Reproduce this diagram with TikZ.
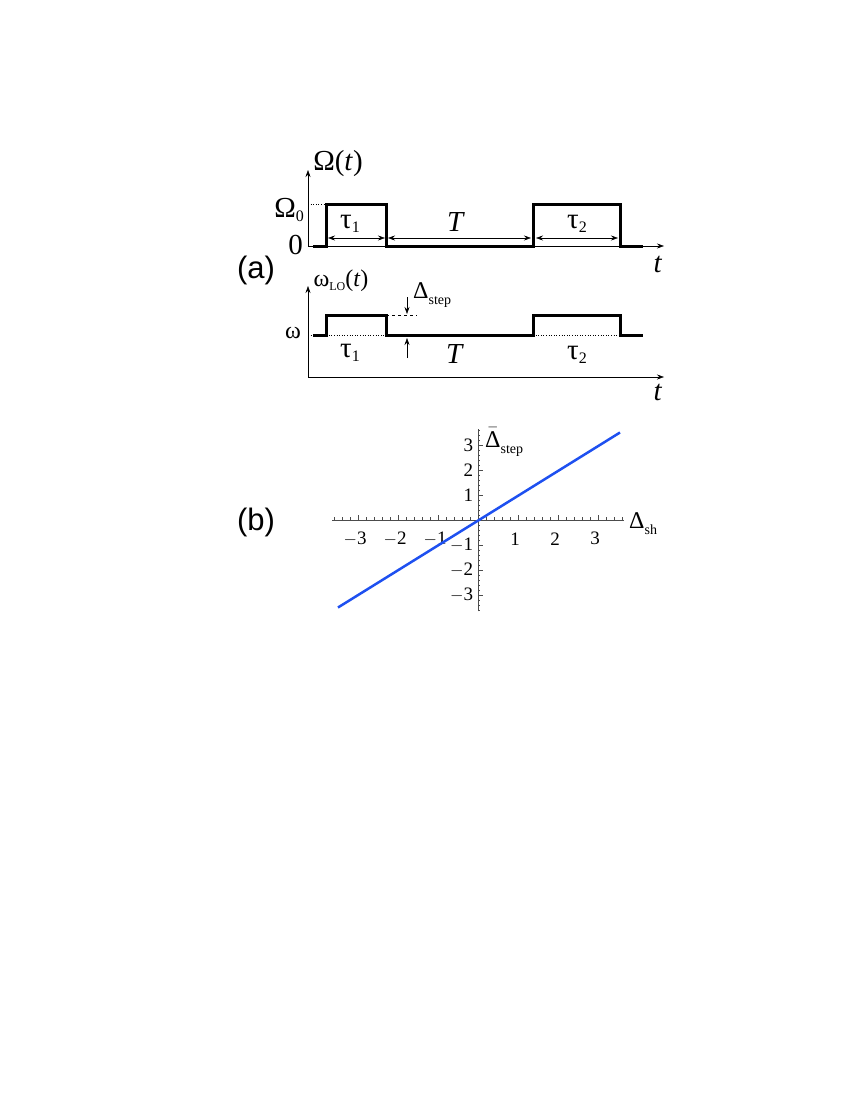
\documentclass[tikz,border=0pt]{standalone}
\usepackage{fontspec}
\setmainfont{Liberation Serif}
\newfontfamily\lsans{Liberation Sans}
\usetikzlibrary{arrows.meta}
\begin{document}
\begin{tikzpicture}[x=1pt,y=-1pt,
  sig/.style={line width=3pt,line join=miter},
  ax/.style={line width=0.6pt,-{Stealth[length=7pt,width=5pt]}},
  dim/.style={line width=0.6pt,{Stealth[length=7pt,width=5pt]}-{Stealth[length=7pt,width=5pt]}},
  lab/.style={font=\fontsize{29}{31}\selectfont,inner sep=0pt},
  slab/.style={font=\fontsize{24}{26}\selectfont,inner sep=0pt},
  tk/.style={font=\fontsize{19}{21}\selectfont,inner sep=0pt}]
\useasboundingbox (0,0) rectangle (850,1100);
% panel a top
\coordinate (ya0) at (308,246);
\coordinate (ya1) at (308,170);
\coordinate (xa1) at (664,246);
\draw[ax] (ya0) -- (ya1);
\draw[ax] (ya0) -- (xa1);
\draw[dotted,line width=0.6pt] (308,204) -- (326,204);
\draw[sig] (313,246) -- (326,246) -- (326,204) -- (386,204) -- (386,246) -- (533,246) -- (533,204) -- (620,204) -- (620,246) -- (643,246);
\coordinate (d1) at (328,238); \coordinate (d2) at (385,238);
\coordinate (d3) at (388,238); \coordinate (d4) at (531,238);
\coordinate (d5) at (536,238); \coordinate (d6) at (618,238);
\draw[dim] (d1) -- (d2); \draw[dim] (d3) -- (d4); \draw[dim] (d5) -- (d6);
\node[lab] (Om) at (338,164) {Ω(\textit{t})};
\node[lab,anchor=east] (Om0) at (304,210) {Ω\raisebox{-4pt}{\fontsize{16}{16}\selectfont 0}};
\node[lab,anchor=east] (z) at (303,245) {0};
\node[lab] (tau1) at (350,224) {τ\raisebox{-4pt}{\fontsize{16}{16}\selectfont 1}};
\node[lab] (T1) at (456,222) {\textit{T}};
\node[lab] (tau2) at (577,224) {τ\raisebox{-4pt}{\fontsize{16}{16}\selectfont 2}};
\node[lab] (t1) at (658,264) {\textit{t}};
\node[font=\lsans\fontsize{31}{33}\selectfont,inner sep=0pt] (a) at (256,270) {(a)};
% panel a bottom
\coordinate (yb0) at (308,377);
\coordinate (yb1) at (308,286);
\coordinate (xb1) at (664,377);
\draw[ax] (yb0) -- (yb1);
\draw[ax] (yb0) -- (xb1);
\draw[dotted,line width=0.6pt] (308,335) -- (386,335);
\draw[dotted,line width=0.6pt] (533,335) -- (620,335);
\draw[dashed,line width=0.6pt] (386,315) -- (417,315);
\draw[sig] (313,335) -- (326,335) -- (326,315) -- (386,315) -- (386,335) -- (533,335) -- (533,315) -- (620,315) -- (620,335) -- (643,335);
\coordinate (s1) at (407,297); \coordinate (s2) at (407,314);
\coordinate (s3) at (407,358); \coordinate (s4) at (407,338);
\draw[ax] (s1) -- (s2); \draw[ax] (s3) -- (s4);
\node[slab] (wlo) at (341,281) {ω\raisebox{-4pt}{\fontsize{12}{12}\selectfont LO}(\textit{t})};
\node[slab,anchor=east] (w) at (301,333) {ω};
\node[slab,anchor=west] (dst) at (413,295) {Δ\raisebox{-6pt}{\fontsize{14}{14}\selectfont step}};
\node[lab] (tau1b) at (350,353) {τ\raisebox{-4pt}{\fontsize{16}{16}\selectfont 1}};
\node[lab] (T2) at (455,354) {\textit{T}};
\node[lab] (tau2b) at (577,355) {τ\raisebox{-4pt}{\fontsize{16}{16}\selectfont 2}};
\node[lab] (t2) at (658,392) {\textit{t}};
% panel b
\begin{scope}[shift={(478,520)},x=40pt,y=25pt]
\draw[line width=0.6pt,gray!60!black] (-3.65,0) -- (3.65,0);
\draw[line width=0.6pt,gray!60!black] (0,-3.65) -- (0,3.65);
\foreach \i in {-18,...,18}{\draw[line width=0.5pt,gray!60!black] (\i/5,0) -- ++(0,0.12);}
\foreach \i in {-3,...,3}{\draw[line width=0.5pt,gray!60!black] (\i,0) -- ++(0,0.22);}
\foreach \i in {-18,...,18}{\draw[line width=0.5pt,gray!60!black] (0,\i/5) -- ++(0.06,0);}
\foreach \i in {-3,...,3}{\draw[line width=0.5pt,gray!60!black] (0,\i) -- ++(0.12,0);}
\foreach \i/\l in {-3/$-$3,-2/$-$2,-1/$-$1,1/1,2/2,3/3}{\node[tk] at (\i-0.07,-0.75) {\l};}
\foreach \i/\l in {-3/$-$3,-2/$-$2,-1/$-$1,1/1,2/2,3/3}{\node[tk,anchor=east] at (-0.12,\i) {\l};}
\draw[line width=2.5pt,color={rgb,255:red,30;green,80;blue,240}] (-3.5,-3.5) -- (3.55,3.5);
\end{scope}
\node[slab,anchor=west] (ystep) at (485,442) {$\bar{\mbox{Δ}}$\raisebox{-6pt}{\fontsize{14}{14}\selectfont step}};
\node[slab,anchor=west] (xsh) at (629,524) {Δ\raisebox{-6pt}{\fontsize{14}{14}\selectfont sh}};
\node[font=\lsans\fontsize{31}{33}\selectfont,inner sep=0pt] (b) at (256,522) {(b)};
\end{tikzpicture}
\end{document}
